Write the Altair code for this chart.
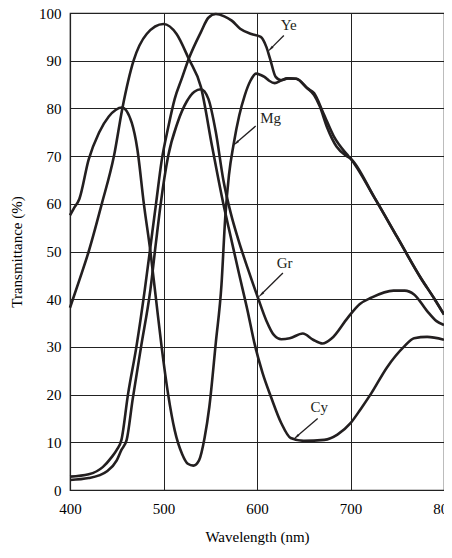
import math
import altair as alt
import pandas as pd

# ---- data ----
ye_x = [400, 420, 435, 445, 450, 455, 462, 471, 480, 488, 492, 498, 505, 512, 520, 527, 540, 548, 556, 565, 573, 582, 594, 604, 610, 614, 620, 626, 633, 642, 654, 661, 671, 682, 696, 700, 725, 750, 775, 790, 800]
ye_y = [2.8, 3.3, 4.8, 7.0, 8.4, 10.5, 20, 30, 42, 54, 60, 69, 76, 82, 86.5, 90.4, 96, 99, 99.8, 99.3, 98.4, 96.7, 95.6, 95, 92.9, 90.4, 86.6, 85.9, 86.3, 86.2, 84.2, 83.2, 79, 74.2, 70.4, 69.5, 61.5, 53, 44.5, 40, 36.8]

mg_x = [400, 404, 410, 420, 431, 441.5, 455.6, 466, 472, 479, 486, 492, 498, 505, 512, 520, 526, 532, 538, 544, 549, 556, 562, 566, 570, 575, 581, 587, 593, 599, 604, 608, 613, 619, 626, 633, 642, 654, 661, 667, 675, 685, 696, 700, 725, 750, 775, 790, 800]
mg_y = [57.6, 59, 61, 69.3, 74.9, 78.3, 80.2, 77, 71.5, 60, 50, 40, 30, 20, 12.5, 7.5, 5.5, 5.1, 6.2, 11, 17.4, 31, 43, 57, 66, 72.5, 78.5, 82.8, 85.8, 87.3, 87, 86.6, 85.8, 85.3, 85.9, 86.3, 86.2, 84.2, 82.8, 80.5, 76, 72, 70, 69.5, 61.5, 53, 44.5, 40, 36.8]

gr_x = [400, 420, 440, 450, 455, 460.6, 467, 476, 486, 492, 497, 505, 515, 525, 533, 540, 548, 556, 564, 572, 580, 590, 601, 610, 618, 626, 635, 649, 660, 670, 680, 697, 710, 722, 746, 758, 768, 782, 792, 800]
gr_y = [2.1, 2.5, 4.0, 6.2, 8.4, 10.5, 19, 30, 42, 52, 60, 70, 77, 81.5, 83.5, 84, 82, 75, 65, 58, 52.5, 46.5, 40.3, 35.5, 32.5, 31.6, 31.8, 32.8, 31.5, 30.7, 31.8, 36.1, 39, 40.3, 41.8, 41.8, 41, 37.5, 35.4, 34.6]

cy_x = [400, 410, 420, 434, 447, 456, 468, 482, 500, 514, 527, 540, 552, 564, 572, 580, 590, 597, 606, 615, 626, 636, 650, 672, 686, 700, 711, 722, 739, 757, 768, 782, 800]
cy_y = [38.2, 44, 50, 60, 70, 80, 90, 95.6, 97.7, 95.6, 90.4, 84.5, 72, 60, 53, 46, 37.5, 31, 24.5, 19.5, 14, 10.9, 10.3, 10.5, 11.6, 14, 17, 20.2, 25.7, 30, 31.8, 32.1, 31.5]

# curve labels: text position and arrow (start -> tip)
lab_names = ["Ye", "Mg", "Gr", "Cy"]
lab_tx = [634, 614.6, 629.5, 666.7]
lab_ty = [97.5, 78, 47.5, 17.4]
arr_x0 = [628.7, 598.6, 627.7, 664.9]
arr_y0 = [95.3, 76.3, 45.5, 15.0]
arr_x1 = [611, 573.7, 601, 638.3]
arr_y1 = [91.8, 72.1, 40.3, 10.5]

x_ticks = [400, 500, 600, 700, 800]
y_ticks = [0, 10, 20, 30, 40, 50, 60, 70, 80, 90, 100]

W, H = 374, 477
FONT = "Liberation Serif"
INK = "#231f20"

rows = []
for name, xs_, ys_ in [("Ye", ye_x, ye_y), ("Mg", mg_x, mg_y), ("Gr", gr_x, gr_y), ("Cy", cy_x, cy_y)]:
    for a, b in zip(xs_, ys_):
        rows.append({"series": name, "wl": a, "t": b})
df = pd.DataFrame(rows)

# arrows
pxn = W / 400.0
pxp = H / 100.0
arr_rows = []
for i, n in enumerate(lab_names):
    dx = (arr_x1[i] - arr_x0[i]) * pxn
    dy = -(arr_y1[i] - arr_y0[i]) * pxp
    L = math.hypot(dx, dy)
    ux, uy = dx / L, dy / L
    ang = math.degrees(math.atan2(dx, -dy)) % 360
    hx = arr_x1[i] - ux * 5.0 / pxn
    hy = arr_y1[i] + uy * 5.0 / pxp
    sx = arr_x1[i] - ux * 7 / pxn
    sy = arr_y1[i] + uy * 7 / pxp
    arr_rows.append({"name": n, "tx": lab_tx[i], "ty": lab_ty[i],
                     "x0": arr_x0[i], "y0": arr_y0[i], "x1": sx, "y1": sy,
                     "hx": hx, "hy": hy, "ang": ang})
adf = pd.DataFrame(arr_rows)

xs = alt.Scale(domain=[400, 800], nice=False, zero=False)
ys = alt.Scale(domain=[0, 100], nice=False)

lines = alt.Chart(df).mark_line(interpolate="monotone", strokeWidth=2.6, color=INK).encode(
    x=alt.X("wl:Q", scale=xs, axis=alt.Axis(values=x_ticks, title="Wavelength (nm)", grid=True,
                                            ticks=False, labelPadding=11, titlePadding=13,
                                            labelFlush=False)),
    y=alt.Y("t:Q", scale=ys, axis=alt.Axis(values=y_ticks, title="Transmittance (%)", grid=True,
                                           ticks=False, labelPadding=9, titlePadding=14,
                                           labelFlush=False)),
    detail="series:N",
)

shafts = alt.Chart(adf).mark_rule(strokeWidth=1.3, color=INK).encode(
    x="x0:Q", y="y0:Q", x2="x1:Q", y2="y1:Q")
heads = alt.Chart(adf).mark_point(shape="wedge", filled=True, size=90, color=INK, opacity=1).encode(
    x="hx:Q", y="hy:Q", angle=alt.Angle("ang:Q", scale=None))
texts = alt.Chart(adf).mark_text(font=FONT, fontSize=15, color=INK).encode(
    x="tx:Q", y="ty:Q", text="name:N")

chart = alt.layer(lines, shafts, heads, texts).properties(
    width=W, height=H,
    autosize=alt.AutoSizeParams(type="none"),
    padding={"left": 62, "top": 5, "right": 0, "bottom": 56},
).configure_axis(
    labelFont=FONT, titleFont=FONT, labelFontSize=15, titleFontSize=15,
    titleFontWeight="normal", labelColor="black", titleColor="black",
    gridColor="#222", gridWidth=1, gridOpacity=1, domainColor="#222", domainWidth=1.2,
).configure_view(stroke="#222", strokeWidth=1.2)

chart.save("out.html", embed_options={"renderer": "svg", "actions": False})
